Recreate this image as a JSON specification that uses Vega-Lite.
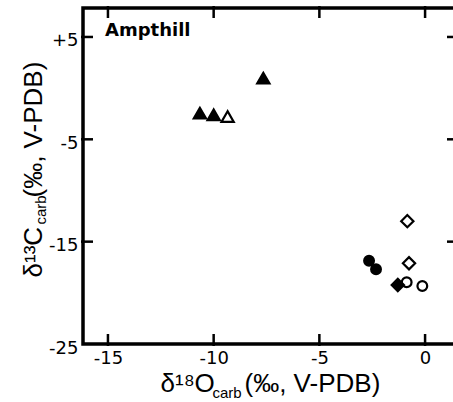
{
  "$schema": "https://vega.github.io/schema/vega-lite/v6.json",
  "autosize": {"type": "none"},
  "padding": {"left": 83, "top": 8, "right": 0, "bottom": 58},
  "width": 374,
  "height": 336,
  "background": "white",
  "config": {
    "view": {"stroke": "black", "strokeWidth": 3.5},
    "axis": {
      "grid": false,
      "domain": false,
      "tickOpacity": 0,
      "labelFont": "DejaVu Sans",
      "labelFontSize": 18,
      "labelColor": "black",
      "titleFont": "Liberation Sans",
      "titleFontWeight": "normal",
      "titleColor": "black"
    }
  },
  "title": {
    "text": "Ampthill",
    "anchor": "start",
    "frame": "group",
    "orient": "top",
    "font": "DejaVu Sans",
    "fontSize": 18,
    "fontWeight": "bold",
    "color": "black",
    "baseline": "alphabetic",
    "offset": 0,
    "dx": 22,
    "dy": 51
  },
  "data": {
    "values": [
      {"d18O": -10.65, "d13C": -2.45, "symbol": "triangle", "style": "filled"},
      {"d18O": -10.0, "d13C": -2.61, "symbol": "triangle", "style": "filled"},
      {"d18O": -9.34, "d13C": -2.78, "symbol": "triangle", "style": "open"},
      {"d18O": -7.65, "d13C": 0.97, "symbol": "triangle", "style": "filled"},
      {"d18O": -2.65, "d13C": -16.86, "symbol": "circle", "style": "filled"},
      {"d18O": -2.32, "d13C": -17.7, "symbol": "circle", "style": "filled"},
      {"d18O": -0.87, "d13C": -18.97, "symbol": "circle", "style": "open"},
      {"d18O": -0.13, "d13C": -19.33, "symbol": "circle", "style": "open"},
      {"d18O": -0.84, "d13C": -13.0, "symbol": "diamond", "style": "open"},
      {"d18O": -0.76, "d13C": -17.11, "symbol": "diamond", "style": "open"},
      {"d18O": -1.29, "d13C": -19.23, "symbol": "diamond", "style": "filled"}
    ]
  },
  "layer": [
    {
      "transform": [{"filter": "datum.symbol === 'triangle'"}],
      "mark": {"type": "point", "shape": "triangle-up", "size": 150, "filled": true, "stroke": "black", "strokeWidth": 2.2, "opacity": 1},
      "encoding": {
        "x": {
          "field": "d18O", "type": "quantitative",
          "scale": {"domain": [-16.18, 1.51], "nice": false, "zero": false},
          "axis": {
            "orient": "bottom",
            "offset": -10,
            "values": [-15, -10, -5, 0],
            "tickSize": 10,
            "labelExpr": "'' + datum.value",
            "labelPadding": 5,
            "labelBaseline": "top",
            "title": "δ¹⁸O",
            "titleFontSize": 26,
            "titleX": 77,
            "titleY": 57,
            "titleAlign": "left",
            "titleBaseline": "alphabetic",
            "titleAngle": 0
          }
        },
        "y": {
          "field": "d13C", "type": "quantitative",
          "scale": {"domain": [-25, 7.83], "nice": false, "zero": false},
          "axis": {
            "orient": "left",
            "offset": -10,
            "values": [5, -5, -15, -25],
            "tickSize": 10,
            "labelExpr": "datum.value > 0 ? '+' + datum.value : '' + datum.value",
            "labelPadding": 5,
            "labelOffset": 4,
            "title": "δ¹³C",
            "titleFontSize": 26,
            "titleX": -51.5,
            "titleY": 269,
            "titleAlign": "left",
            "titleBaseline": "alphabetic",
            "titleAngle": -90
          }
        },
        "fill": {"field": "style", "type": "nominal", "scale": {"domain": ["filled", "open"], "range": ["black", "white"]}, "legend": null}
      }
    },
    {
      "transform": [{"filter": "datum.symbol === 'circle'"}],
      "mark": {"type": "point", "shape": "circle", "size": 95, "filled": true, "stroke": "black", "strokeWidth": 2.2, "opacity": 1},
      "encoding": {
        "x": {
          "field": "d18O", "type": "quantitative",
          "scale": {"domain": [-16.18, 1.51], "nice": false, "zero": false},
          "axis": {
            "orient": "top",
            "values": [-15, -10, -5, 0],
            "labels": false,
            "title": "carb",
            "titleFontSize": 15,
            "titleX": 129,
            "titleY": 389,
            "titleAlign": "left",
            "titleBaseline": "alphabetic",
            "titleAngle": 0
          }
        },
        "y": {
          "field": "d13C", "type": "quantitative",
          "scale": {"domain": [-25, 7.83], "nice": false, "zero": false},
          "axis": {
            "orient": "right",
            "values": [5, -5, -15, -25],
            "labels": false,
            "title": "carb",
            "titleFontSize": 15,
            "titleX": -412,
            "titleY": 216,
            "titleAlign": "left",
            "titleBaseline": "alphabetic",
            "titleAngle": -90
          }
        },
        "fill": {"field": "style", "type": "nominal", "scale": {"domain": ["filled", "open"], "range": ["black", "white"]}, "legend": null}
      }
    },
    {
      "transform": [{"filter": "datum.symbol === 'diamond'"}],
      "mark": {"type": "point", "shape": "diamond", "size": 150, "filled": true, "stroke": "black", "strokeWidth": 2.2, "opacity": 1},
      "encoding": {
        "x": {
          "field": "d18O", "type": "quantitative",
          "scale": {"domain": [-16.18, 1.51], "nice": false, "zero": false},
          "axis": {
            "orient": "bottom",
            "ticks": false,
            "labels": false,
            "title": "(‰, V-PDB)",
            "titleFontSize": 26,
            "titleX": 161,
            "titleY": 47,
            "titleAlign": "left",
            "titleBaseline": "alphabetic",
            "titleAngle": 0
          }
        },
        "y": {
          "field": "d13C", "type": "quantitative",
          "scale": {"domain": [-25, 7.83], "nice": false, "zero": false},
          "axis": {
            "orient": "left",
            "ticks": false,
            "labels": false,
            "title": "(‰, V-PDB)",
            "titleFontSize": 26,
            "titleX": -41.5,
            "titleY": 189,
            "titleAlign": "left",
            "titleBaseline": "alphabetic",
            "titleAngle": -90
          }
        },
        "fill": {"field": "style", "type": "nominal", "scale": {"domain": ["filled", "open"], "range": ["black", "white"]}, "legend": null}
      }
    },
    {
      "data": {"values": [{"v": -15}, {"v": -10}, {"v": -5}, {"v": 0}]},
      "mark": {"type": "point", "shape": "M-0.125,0.2L0.125,0.2L0.125,-1L-0.125,-1Z", "size": 400, "filled": true, "fill": "black", "strokeWidth": 0, "opacity": 1},
      "encoding": {
        "x": {"field": "v", "type": "quantitative", "scale": {"domain": [-16.18, 1.51], "nice": false, "zero": false}, "axis": null},
        "y": {"datum": -25, "type": "quantitative", "scale": {"domain": [-25, 7.83], "nice": false, "zero": false}, "axis": null}
      }
    },
    {
      "data": {"values": [{"v": -15}, {"v": -10}, {"v": -5}, {"v": 0}]},
      "mark": {"type": "point", "shape": "M-0.125,-0.2L0.125,-0.2L0.125,1L-0.125,1Z", "size": 400, "filled": true, "fill": "black", "strokeWidth": 0, "opacity": 1},
      "encoding": {
        "x": {"field": "v", "type": "quantitative", "scale": {"domain": [-16.18, 1.51], "nice": false, "zero": false}, "axis": null},
        "y": {"datum": 7.83, "type": "quantitative", "scale": {"domain": [-25, 7.83], "nice": false, "zero": false}, "axis": null}
      }
    },
    {
      "data": {"values": [{"v": 5}, {"v": -5}, {"v": -15}]},
      "mark": {"type": "point", "shape": "M-0.2,-0.125L1,-0.125L1,0.125L-0.2,0.125Z", "size": 400, "filled": true, "fill": "black", "strokeWidth": 0, "opacity": 1},
      "encoding": {
        "y": {"field": "v", "type": "quantitative", "scale": {"domain": [-25, 7.83], "nice": false, "zero": false}, "axis": null},
        "x": {"datum": -16.18, "type": "quantitative", "scale": {"domain": [-16.18, 1.51], "nice": false, "zero": false}, "axis": null}
      }
    },
    {
      "data": {"values": [{"v": 5}, {"v": -5}, {"v": -15}]},
      "mark": {"type": "point", "shape": "M0.2,-0.125L-1,-0.125L-1,0.125L0.2,0.125Z", "size": 400, "filled": true, "fill": "black", "strokeWidth": 0, "opacity": 1},
      "encoding": {
        "y": {"field": "v", "type": "quantitative", "scale": {"domain": [-25, 7.83], "nice": false, "zero": false}, "axis": null},
        "x": {"datum": 1.51, "type": "quantitative", "scale": {"domain": [-16.18, 1.51], "nice": false, "zero": false}, "axis": null}
      }
    }
  ],
  "resolve": {"axis": {"x": "independent", "y": "independent"}}
}
